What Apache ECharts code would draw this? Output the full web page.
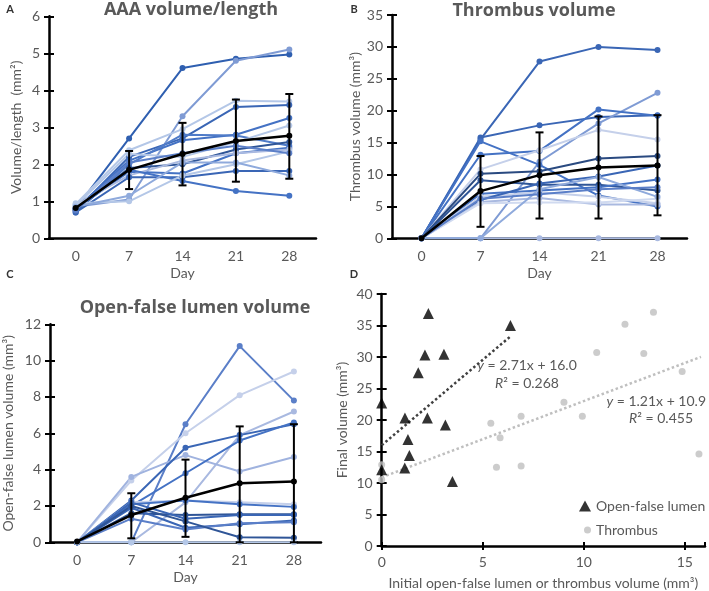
<!DOCTYPE html>
<html><head><meta charset="utf-8">
<script src="https://cdn.jsdelivr.net/npm/echarts/dist/echarts.min.js"></script>
<style>html,body{margin:0;padding:0;background:#fff}#c{width:709px;height:591px}</style>
</head><body><div id="c"></div>
<script>
const days = ['0', '7', '14', '21', '28'];

// Panel A: AAA volume/length (mm2)
const aaaLines = [
  [0.80, 2.70, 4.60, 4.85, 4.97],
  [0.85, 1.05, 3.30, 4.80, 5.10],
  [0.92, 2.38, 2.95, 3.72, 3.70],
  [0.75, 2.20, 2.70, 3.55, 3.60],
  [0.80, 2.10, 2.65, 2.80, 3.25],
  [0.70, 2.00, 2.80, 2.78, 2.50],
  [0.88, 2.28, 2.20, 2.60, 3.05],
  [0.75, 1.90, 2.00, 2.40, 2.60],
  [0.80, 1.80, 1.75, 2.30, 2.45],
  [0.90, 1.70, 2.10, 2.30, 2.40],
  [0.70, 1.65, 1.65, 1.82, 1.82],
  [0.80, 1.85, 1.55, 1.28, 1.15],
  [0.95, 1.00, 1.70, 2.00, 2.35],
  [0.85, 1.15, 2.05, 2.05, 1.70],
  [0.75, 2.05, 2.30, 2.50, 2.30]
];
const aaaMean = [0.82, 1.85, 2.28, 2.63, 2.77];
const aaaLow  = [null, 1.33, 1.43, 1.53, 1.61];
const aaaHigh = [null, 2.36, 3.12, 3.75, 3.90];

// Panel B: thrombus volume (mm3)
const thrLines = [
  [0, 15.5, 27.7, 30.0, 29.5],
  [0, 15.8, 17.7, 19.0, 19.3],
  [0, 0, 12.0, 18.0, 22.8],
  [0, 15.2, 11.5, 6.7, 5.0],
  [0, 13.1, 13.7, 20.2, 19.2],
  [0, 10.8, 13.8, 17.0, 15.5],
  [0, 10.1, 10.5, 12.5, 12.9],
  [0, 9.1, 8.4, 8.4, 7.5],
  [0, 7.0, 7.5, 8.0, 9.2],
  [0, 6.5, 7.2, 6.5, 5.5],
  [0, 6.0, 8.6, 9.7, 11.4],
  [0, 5.7, 6.3, 5.3, 5.3],
  [0, 5.5, 5.6, 5.6, 6.2],
  [0, 0, 0, 0, 0],
  [0, 0, 7.7, 9.6, 6.5],
  [0, 6.2, 6.9, 7.7, 8.0]
];
const thrMean = [0, 7.4, 9.9, 11.1, 11.4];
const thrLow  = [null, 1.8, 3.1, 3.1, 3.6];
const thrHigh = [null, 12.9, 16.6, 19.1, 19.3];

// Panel C: open-false lumen volume (mm3)
const oflLines = [
  [0, 0, 6.5, 10.8, 7.8],
  [0, 3.4, 6.0, 8.1, 9.4],
  [0, 0, 2.2, 5.9, 7.2],
  [0, 3.6, 4.8, 3.9, 4.7],
  [0, 2.3, 5.2, 5.9, 6.5],
  [0, 2.0, 3.8, 5.6, 6.6],
  [0, 2.2, 2.3, 2.2, 2.1],
  [0, 2.1, 2.3, 2.1, 1.95],
  [0, 1.6, 1.5, 1.55, 1.55],
  [0, 2.2, 1.3, 1.5, 1.5],
  [0, 1.9, 0.8, 1.0, 1.2],
  [0, 1.3, 0.7, 1.05, 1.1],
  [0, 2.0, 1.15, 0.28, 0.25],
  [0, 0, 0, 0, 0]
];
const oflMean = [0.05, 1.5, 2.45, 3.25, 3.35];
const oflLow  = [null, 0.22, 0.3, 0, 0];
const oflHigh = [null, 2.7, 4.55, 6.38, 6.5];

// Panel D: initial vs final volume
const oflInitial = [2.31, 6.37, 2.14, 3.08, 1.81, 0, 1.15, 2.26, 3.15, 1.30, 1.37, 0, 1.14, 3.50];
const oflFinal   = [36.9, 35.0, 30.3, 30.45, 27.5, 22.7, 20.3, 20.3, 19.2, 16.9, 14.35, 12.1, 12.4, 10.25];
const thrInitial = [13.45, 12.04, 10.64, 12.97, 14.87, 9.02, 6.9, 9.93, 5.4, 5.86, 5.68, 6.9, 15.7, 0, 0];
const thrFinal   = [37.1, 35.2, 30.7, 30.55, 27.7, 22.8, 20.6, 20.6, 19.5, 17.2, 12.5, 12.7, 14.6, 12.9, 10.5];
const oflFit = [2.71, 16.0];   // slope, intercept
const thrFit = [1.21, 10.9];
const oflFitRange = [0, 6.4];
const thrFitRange = [0, 15.8];

// styles
const aaaColors = ['#2f5fb0','#7f9bd4','#b4c7e7','#3a66b5','#4472c4','#4f7bc8','#b4c7e7','#2f5597','#4472c4','#a9b9e0','#3a66b5','#4472c4','#b4c7e7','#8faadc','#5b7fc8'];
const thrColors = ['#3a66b5','#3a66b5','#7f9bd4','#4472c4','#4472c4','#c5d0ea','#2a4a80','#2f5597','#4472c4','#c5d0ea','#3a66b5','#a9b9e0','#d0daf0','#a9b9e0','#8faadc','#5b7fc8'];
const oflColors = ['#5b7fc8','#c5d0ea','#a9b9e0','#a0b3df','#3a66b5','#4472c4','#c5d0ea','#4472c4','#2f5597','#3a66b5','#3a66b5','#5b7fc8','#2f5597','#b4c7e7'];

const FONT = 'Lato';
const GRAY = '#595959';

function catAxes(gi) {
  return [
    { type: 'category', gridIndex: gi, data: days, boundaryGap: true,
      axisLine: { lineStyle: { color: '#000', width: 2.5 } },
      axisTick: { length: 5, lineStyle: { color: '#000', width: 2 } },
      axisLabel: { color: GRAY, fontSize: 14, fontFamily: FONT, margin: 11 },
      name: 'Day', nameLocation: 'middle', nameGap: 28,
      nameTextStyle: { color: GRAY, fontSize: 14, fontFamily: FONT } },
    { type: 'category', gridIndex: gi, data: days, boundaryGap: true, position: 'bottom',
      axisLine: { show: false }, axisLabel: { show: false },
      axisTick: { inside: true, length: 5, lineStyle: { color: '#000', width: 2 } } }
  ];
}
function valAxes(gi, max, interval, name, nameGap) {
  return [
    { type: 'value', gridIndex: gi, min: 0, max, interval,
      splitLine: { show: false },
      axisLine: { show: true, lineStyle: { color: '#000', width: 2.5 } },
      axisTick: { show: true, length: 5, lineStyle: { color: '#000', width: 2 } },
      axisLabel: { color: GRAY, fontSize: 14, fontFamily: FONT, margin: 9 },
      name, nameLocation: 'middle', nameGap,
      nameTextStyle: { color: GRAY, fontSize: 14, fontFamily: FONT } },
    { type: 'value', gridIndex: gi, min: 0, max, interval, position: 'left',
      splitLine: { show: false }, axisLine: { show: false }, axisLabel: { show: false },
      axisTick: { show: true, inside: true, length: 5, lineStyle: { color: '#000', width: 2 } } }
  ];
}

function errRender(params, api) {
  const x = api.value(0), lo = api.value(1), hi = api.value(2);
  const a = api.coord([x, lo]), b = api.coord([x, hi]);
  const w = 4, st = { stroke: '#000', lineWidth: 2 };
  return { type: 'group', children: [
    { type: 'line', shape: { x1: a[0], y1: a[1], x2: b[0], y2: b[1] }, style: st },
    { type: 'line', shape: { x1: a[0] - w, y1: a[1], x2: a[0] + w, y2: a[1] }, style: st },
    { type: 'line', shape: { x1: b[0] - w, y1: b[1], x2: b[0] + w, y2: b[1] }, style: st }
  ]};
}

const series = [];
function panel(lines, colors, mean, low, high, xi, yi) {
  lines.forEach((d, i) => series.push({
    type: 'line', xAxisIndex: xi, yAxisIndex: yi, data: d, symbol: 'circle', symbolSize: 6,
    lineStyle: { width: 2, color: colors[i % colors.length] }, itemStyle: { color: colors[i % colors.length] },
    silent: true, z: 2
  }));
  series.push({
    type: 'line', xAxisIndex: xi, yAxisIndex: yi, data: mean, symbol: 'circle', symbolSize: 6,
    lineStyle: { width: 2.5, color: '#000' }, itemStyle: { color: '#000' }, z: 5, silent: true
  });
  series.push({
    type: 'custom', xAxisIndex: xi, yAxisIndex: yi, renderItem: errRender, z: 6, silent: true,
    encode: { x: 0, y: [1, 2] },
    data: days.map((d, i) => [i, low[i], high[i]]).filter(r => r[1] !== null)
  });
}
panel(aaaLines, aaaColors, aaaMean, aaaLow, aaaHigh, 0, 0);
panel(thrLines, thrColors, thrMean, thrLow, thrHigh, 2, 2);
panel(oflLines, oflColors, oflMean, oflLow, oflHigh, 4, 4);

// Panel D
series.push({
  name: 'Open-false lumen', type: 'scatter', xAxisIndex: 6, yAxisIndex: 6, symbol: 'triangle', symbolSize: 11,
  itemStyle: { color: '#000' }, data: oflInitial.map((x, i) => [x, oflFinal[i]]), z: 4
});
series.push({
  name: 'Thrombus', type: 'scatter', xAxisIndex: 6, yAxisIndex: 6, symbol: 'circle', symbolSize: 7,
  itemStyle: { color: '#bfbfbf' }, data: thrInitial.map((x, i) => [x, thrFinal[i]]), z: 3
});
series.push({
  type: 'line', xAxisIndex: 6, yAxisIndex: 6, symbol: 'none', silent: true, z: 2,
  lineStyle: { color: '#404040', width: 2.5, type: [2.5, 2.5] },
  data: oflFitRange.map(x => [x, oflFit[0] * x + oflFit[1]])
});
series.push({
  type: 'line', xAxisIndex: 6, yAxisIndex: 6, symbol: 'none', silent: true, z: 2,
  lineStyle: { color: '#bfbfbf', width: 2.5, type: [2.5, 2.5] },
  data: thrFitRange.map(x => [x, thrFit[0] * x + thrFit[1]])
});

const xAxis = [].concat(catAxes(0), catAxes(1), catAxes(2), [
  { type: 'value', gridIndex: 3, min: 0, max: 16, interval: 5,
    splitLine: { show: false },
    axisLine: { lineStyle: { color: '#000', width: 2.5 } },
    axisTick: { length: 4, lineStyle: { color: '#000', width: 2 } },
    axisLabel: { color: GRAY, fontSize: 14, fontFamily: FONT, margin: 9, showMaxLabel: false },
    name: 'Initial open-false lumen or thrombus volume (mm³)', nameLocation: 'middle', nameGap: 30,
    nameTextStyle: { color: GRAY, fontSize: 14, fontFamily: FONT } },
  { type: 'value', gridIndex: 3, min: 0, max: 16, interval: 5, position: 'bottom',
    splitLine: { show: false }, axisLine: { show: false }, axisLabel: { show: false },
    axisTick: { inside: true, length: 4, lineStyle: { color: '#000', width: 2 } } }
]);
const yAxis = [].concat(
  valAxes(0, 6, 1, 'Volume/length  (mm²)', 26),
  valAxes(1, 35, 5, 'Thrombus volume (mm³)', 30),
  valAxes(2, 12, 2, 'Open-false lumen volume (mm³)', 35),
  valAxes(3, 40, 5, 'Final volume (mm³)', 32)
);

function txt(text, x, y, opts) {
  return { type: 'text', x, y, silent: true, style: Object.assign({
    text, fill: GRAY, font: '14px ' + FONT, align: 'center', verticalAlign: 'middle' }, opts || {}) };
}
const rich = { i: { fontStyle: 'italic', fontSize: 14, fontFamily: FONT, fill: GRAY } };
const TITLE = 'bold 18px "Open Sans"';

const option = {
  animation: false,
  backgroundColor: '#fff',
  grid: [
    { left: 49, top: 16.3, right: 393, bottom: 352.7 },
    { left: 392, top: 15, right: 22, bottom: 352.7 },
    { left: 50, top: 324.3, right: 388, bottom: 48.7 },
    { left: 381.7, top: 294, right: 4, bottom: 43.3 }
  ],
  xAxis, yAxis, series,
  legend: [
    { data: [{ name: 'Open-false lumen', icon: 'triangle' }], left: 579, top: 499, padding: 0,
      itemWidth: 12, itemHeight: 11,
      textStyle: { color: GRAY, fontSize: 14, fontFamily: FONT }, selectedMode: false },
    { data: [{ name: 'Thrombus', icon: 'circle' }], left: 584, top: 523, padding: 0,
      itemWidth: 7, itemHeight: 7,
      textStyle: { color: GRAY, fontSize: 14, fontFamily: FONT }, selectedMode: false }
  ],
  graphic: [
    txt('AAA volume/length', 191, 10, { font: TITLE }),
    txt('Thrombus volume', 534, 11, { font: TITLE }),
    txt('Open-false lumen volume', 195, 308, { font: TITLE }),
    txt('A', 10, 9, { font: 'bold 11px ' + FONT, fill: '#333' }),
    txt('B', 354, 9, { font: 'bold 11px ' + FONT, fill: '#333' }),
    txt('C', 10, 274, { font: 'bold 11px ' + FONT, fill: '#333' }),
    txt('D', 354, 274, { font: 'bold 11px ' + FONT, fill: '#333' }),
    txt('{i|y} = 2.71x + 16.0', 527, 365, { rich }),
    txt('{i|R}² = 0.268', 527, 383, { rich }),
    txt('{i|y} = 1.21x + 10.9', 706, 401, { rich, align: 'right' }),
    txt('{i|R}² = 0.455', 693, 418, { rich, align: 'right' })
  ]
};
const chart = echarts.init(document.getElementById('c'), null, { renderer: 'canvas' });
chart.setOption(option);
</script>
</body></html>
